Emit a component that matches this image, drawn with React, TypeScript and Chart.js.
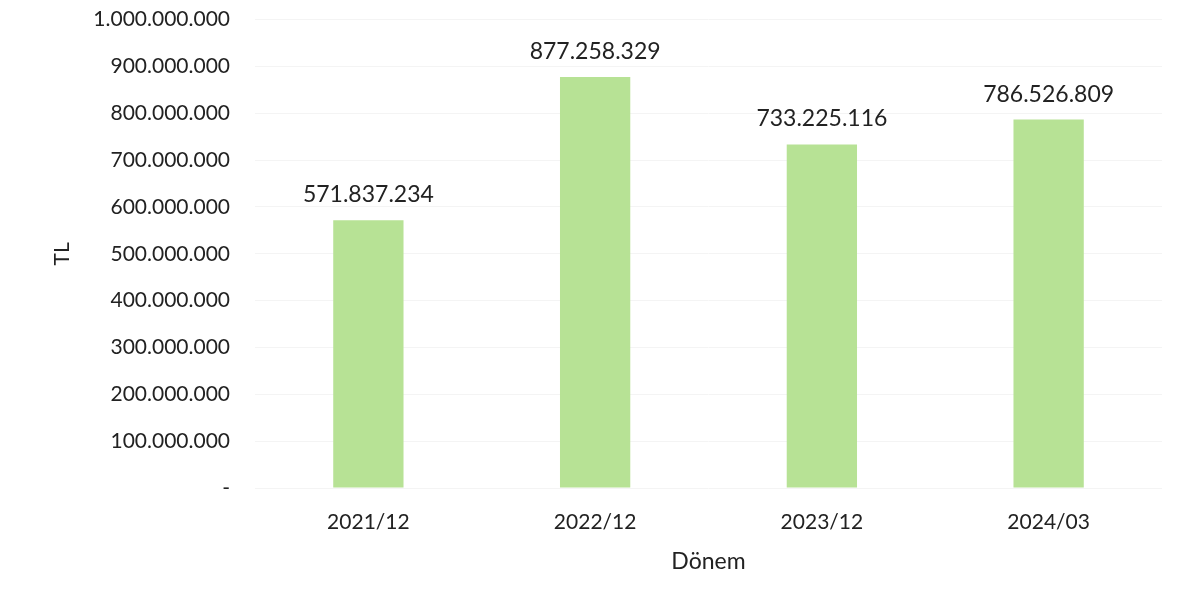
import React, { useEffect, useRef } from "react";
import { Chart, registerables } from "chart.js";

Chart.register(...registerables);

const categories = ["2021/12", "2022/12", "2023/12", "2024/03"];
const values = [571837234, 877258329, 733225116, 786526809];
const yTicks = [0, 100000000, 200000000, 300000000, 400000000, 500000000, 600000000, 700000000, 800000000, 900000000, 1000000000];

const FONT = "Lato, 'Open Sans', sans-serif";

function fmt(v: number): string {
  if (v === 0) return "-";
  const s = Math.round(v).toString();
  return s.replace(/\B(?=(\d{3})+(?!\d))/g, ".");
}

const labelPlugin = {
  id: "barLabels",
  afterDatasetsDraw(chart: any) {
    const ctx = chart.ctx;
    const meta = chart.getDatasetMeta(0);
    ctx.save();
    ctx.font = `23px ${FONT}`;
    ctx.fillStyle = "#222";
    ctx.textAlign = "center";
    ctx.textBaseline = "bottom";
    meta.data.forEach((el: any, i: number) => {
      ctx.fillText(fmt(values[i]), el.x, el.y - 14);
    });
    ctx.restore();
  },
};

export default function App() {
  const ref = useRef<HTMLCanvasElement>(null);
  useEffect(() => {
    document.body.style.margin = "0";
    const chart = new Chart(ref.current!, {
      type: "bar",
      data: {
        labels: categories,
        datasets: [
          {
            data: values,
            backgroundColor: "#b7e295",
            borderWidth: 0,
            barPercentage: 0.62,
            categoryPercentage: 0.5,
          },
        ],
      },
      options: {
        animation: false,
        responsive: false,
        maintainAspectRatio: false,
        layout: { padding: { left: 40, right: 22, top: 0, bottom: 30 } },
        plugins: { legend: { display: false }, tooltip: { enabled: false } },
        scales: {
          x: {
            grid: { display: false },
            border: { display: false },
            afterFit: (axis: any) => {
              axis.height = 91;
            },
            ticks: { color: "#222", font: { family: FONT, size: 21 }, padding: 14 },
            title: { display: true, text: "Dönem", color: "#222", font: { family: FONT, size: 23 }, padding: { top: 8 } },
          },
          y: {
            min: 0,
            max: 1000000000,
            afterBuildTicks: (axis: any) => {
              axis.ticks = yTicks.map((v) => ({ value: v }));
            },
            afterFit: (axis: any) => {
              axis.width = 215;
            },
            grid: { color: "#f4f4f4", drawTicks: false },
            border: { display: false },
            ticks: {
              color: "#222",
              font: { family: FONT, size: 21 },
              padding: 25,
              callback: (v: any) => fmt(Number(v)),
            },
            title: { display: true, text: "TL", color: "#222", font: { family: FONT, size: 21 }, padding: 10 },
          },
        },
      },
      plugins: [labelPlugin],
    });
    return () => chart.destroy();
  }, []);
  return (
    <div style={{ width: 1184, height: 609, background: "#fff", overflow: "hidden" }}>
      <canvas ref={ref} width={1184} height={627} style={{ display: "block", marginTop: -18 }} />
    </div>
  );
}
